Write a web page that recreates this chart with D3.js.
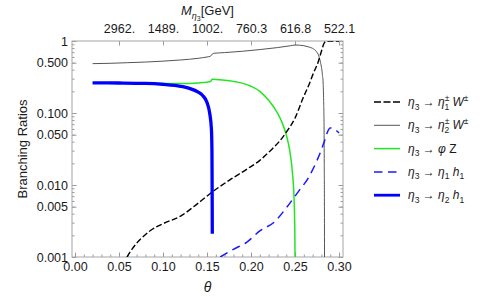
<!DOCTYPE html>
<html>
<head>
<meta charset="utf-8">
<script src="https://cdn.jsdelivr.net/npm/d3@7"></script>
<style>
  body { margin: 0; background: #fff; }
  text { font-family: "Liberation Sans", Arial, sans-serif; fill: #1a1a1a; }
</style>
</head>
<body>
<div id="chart"></div>
<script>

// eta3 -> eta1+- W+-  (black dashed)
var thetaW1 = [0.059, 0.065, 0.075, 0.085, 0.10, 0.12, 0.14, 0.156, 0.176, 0.195, 0.21, 0.222, 0.232, 0.24, 0.25, 0.259, 0.266, 0.271, 0.276, 0.28, 0.283, 0.285, 0.287, 0.30];
var brW1    = [0.001, 0.0013, 0.0018, 0.0023, 0.0029, 0.0037, 0.0056, 0.0080, 0.0118, 0.0165, 0.022, 0.030, 0.040, 0.054, 0.085, 0.16, 0.25, 0.36, 0.50, 0.72, 0.93, 0.99, 1.0, 1.0];

// eta3 -> eta2+- W+-  (thin gray)
var thetaW2 = [0.02, 0.04, 0.06, 0.08, 0.10, 0.12, 0.14, 0.15, 0.154, 0.156, 0.158, 0.17, 0.19, 0.21, 0.23, 0.245, 0.25, 0.255, 0.26, 0.265, 0.27, 0.274, 0.277, 0.279, 0.281, 0.282, 0.2825, 0.283, 0.2832, 0.2834, 0.2835];
var brW2    = [0.485, 0.49, 0.50, 0.51, 0.525, 0.545, 0.575, 0.60, 0.615, 0.66, 0.675, 0.69, 0.72, 0.76, 0.81, 0.86, 0.88, 0.875, 0.86, 0.83, 0.79, 0.72, 0.62, 0.50, 0.35, 0.25, 0.15, 0.06, 0.02, 0.005, 0.001];

// eta3 -> phi Z  (green)
var thetaZ = [0.02, 0.06, 0.10, 0.12, 0.14, 0.15, 0.154, 0.156, 0.16, 0.17, 0.18, 0.19, 0.20, 0.21, 0.22, 0.23, 0.235, 0.24, 0.244, 0.247, 0.249, 0.2498, 0.25];
var brZ    = [0.262, 0.261, 0.258, 0.257, 0.262, 0.268, 0.275, 0.295, 0.292, 0.285, 0.275, 0.26, 0.235, 0.20, 0.15, 0.10, 0.075, 0.05, 0.03, 0.015, 0.006, 0.002, 0.001];

// eta3 -> eta1 h1  (blue dashed)
var thetaH1 = [0.165, 0.18, 0.195, 0.21, 0.227, 0.24, 0.255, 0.265, 0.275, 0.28, 0.284, 0.287, 0.29, 0.293, 0.30];
var brH1    = [0.001, 0.00128, 0.0016, 0.0023, 0.0031, 0.0048, 0.0085, 0.0125, 0.022, 0.031, 0.043, 0.055, 0.062, 0.061, 0.053];

// eta3 -> eta2 h1  (thick blue)
var thetaH2 = [0.02, 0.05, 0.08, 0.10, 0.12, 0.13, 0.14, 0.145, 0.15, 0.153, 0.155, 0.1556, 0.1558, 0.1559, 0.156];
var brH2    = [0.262, 0.261, 0.258, 0.25, 0.235, 0.22, 0.195, 0.175, 0.14, 0.10, 0.06, 0.03, 0.01, 0.005, 0.0021];

var xTicks = [0, 0.05, 0.10, 0.15, 0.20, 0.25, 0.30];
var xTickLabels = ["0.00", "0.05", "0.10", "0.15", "0.20", "0.25", "0.30"];
var yTicks = [1, 0.5, 0.1, 0.05, 0.01, 0.005, 0.001];
var yTickLabels = ["1", "0.500", "0.100", "0.050", "0.010", "0.005", "0.001"];
var topTicks = [0.05, 0.10, 0.15, 0.20, 0.25, 0.30];
var topTickLabels = ["2962.", "1489.", "1002.", "760.3", "616.8", "522.1"];

var W = 482, H = 297;
var pL = 72, pR = 343, pT = 41, pB = 257;

var svg = d3.select("#chart").append("svg")
  .attr("width", W)
  .attr("height", H);

var x = d3.scaleLinear().domain([-0.0034, 0.3045]).range([pL, pR]);
var y = d3.scaleLog().domain([0.001, 1]).range([pB, pT]);

svg.append("clipPath").attr("id", "clip")
  .append("rect")
  .attr("x", pL).attr("y", pT)
  .attr("width", pR - pL).attr("height", pB - pT);

// minor ticks
var minorX = d3.range(0, 0.3001, 0.01);
var minorY = [];
[0.001, 0.01, 0.1].forEach(function(d) {
  for (var k = 2; k < 10; k++) minorY.push(d * k);
});

function noLabels(a) { return a.tickFormat(function() { return ""; }); }

svg.append("g").attr("transform", "translate(0," + pB + ")")
  .call(noLabels(d3.axisBottom(x).tickValues(minorX).tickSize(-2.5)));
svg.append("g").attr("transform", "translate(0," + pB + ")")
  .call(d3.axisBottom(x).tickValues(xTicks).tickSize(-4.5).tickPadding(5)
    .tickFormat(function(d, i) { return xTickLabels[i]; }));

svg.append("g").attr("transform", "translate(" + pL + ",0)")
  .call(noLabels(d3.axisLeft(y).tickValues(minorY).tickSize(-2.5)));
svg.append("g").attr("transform", "translate(" + pL + ",0)")
  .call(d3.axisLeft(y).tickValues(yTicks).tickSize(-4.5).tickPadding(4)
    .tickFormat(function(d, i) { return yTickLabels[i]; }));

svg.append("g").attr("transform", "translate(" + pR + ",0)")
  .call(noLabels(d3.axisRight(y).tickValues(minorY).tickSize(-2.5)));
svg.append("g").attr("transform", "translate(" + pR + ",0)")
  .call(noLabels(d3.axisRight(y).tickValues(yTicks).tickSize(-4.5)));

svg.append("g").attr("transform", "translate(0," + pT + ")")
  .call(d3.axisTop(x).tickValues(topTicks).tickSize(-4.5).tickPadding(8)
    .tickFormat(function(d, i) { return topTickLabels[i]; }));

svg.selectAll(".domain").remove();
svg.selectAll(".tick line").attr("stroke", "#9a9a9a");
svg.selectAll(".tick text").attr("font-size", "12.5px").attr("fill", "#1a1a1a")
  .attr("font-family", "Liberation Sans, Arial, sans-serif");

svg.append("rect")
  .attr("x", pL).attr("y", pT)
  .attr("width", pR - pL).attr("height", pB - pT)
  .attr("fill", "none").attr("stroke", "#a6a6a6").attr("stroke-width", 1);

// curves
var plot = svg.append("g").attr("clip-path", "url(#clip)");

function curve(xs, ys) {
  return d3.line()
    .x(function(d, i) { return x(xs[i]); })
    .y(function(d, i) { return y(ys[i]); })
    .curve(d3.curveMonotoneX)(xs);
}

var series = [
  { xs: thetaW2, ys: brW2, color: "#555555", width: 1, dash: null },
  { xs: thetaZ, ys: brZ, color: "#22e622", width: 1.5, dash: null },
  { xs: thetaH1, ys: brH1, color: "#1a1aff", width: 1.5, dash: "8.5,5.5" },
  { xs: thetaW1, ys: brW1, color: "#000000", width: 1.4, dash: "6,2.5" },
  { xs: thetaH2, ys: brH2, color: "#0000ff", width: 3.3, dash: null }
];

series.forEach(function(s) {
  plot.append("path")
    .attr("d", curve(s.xs, s.ys))
    .attr("fill", "none")
    .attr("stroke", s.color)
    .attr("stroke-width", s.width)
    .attr("stroke-dasharray", s.dash);
});

// rich text helper: parts with sub / sup / italic
function rich(sel, parts, small) {
  var cur = 0;
  parts.forEach(function(p) {
    var t = sel.append("tspan").text(p.t);
    var shift = p.subsub ? 6 : (p.sub ? 3.5 : (p.sup ? -5 : 0));
    t.attr("dy", shift - cur);
    cur = shift;
    if (p.dx) t.attr("dx", p.dx);
    if (p.subsub) t.style("font-size", (small - 2) + "px");
    else if (p.sub || p.sup) t.style("font-size", small + "px");
    if (p.it) t.style("font-style", "italic");
  });
}

// axis titles
svg.append("text")
  .attr("transform", "translate(27," + ((pT + pB) / 2) + ") rotate(-90)")
  .attr("text-anchor", "middle")
  .attr("font-size", "13px")
  .text("Branching Ratios");

svg.append("text")
  .attr("x", (pL + pR) / 2).attr("y", 292)
  .attr("text-anchor", "middle")
  .attr("font-size", "14px")
  .style("font-style", "italic")
  .text("θ");

var topTitle = svg.append("text")
  .attr("x", (pL + pR) / 2).attr("y", 15)
  .attr("text-anchor", "middle")
  .attr("font-size", "13px");
rich(topTitle, [
  { t: "M", it: 1 }, { t: "η", it: 1, sub: 1 }, { t: "3", subsub: 1 }, { t: "[GeV]" }
], 9);

// legend
var legendItems = [
  [{ t: "η", it: 1 }, { t: "3", sub: 1 }, { t: " → " }, { t: "η", it: 1 }, { t: "±", sup: 1 }, { t: "1", sub: 1, dx: -5 }, { t: " " }, { t: "W", it: 1 }, { t: "±", sup: 1 }],
  [{ t: "η", it: 1 }, { t: "3", sub: 1 }, { t: " → " }, { t: "η", it: 1 }, { t: "±", sup: 1 }, { t: "2", sub: 1, dx: -5 }, { t: " " }, { t: "W", it: 1 }, { t: "±", sup: 1 }],
  [{ t: "η", it: 1 }, { t: "3", sub: 1 }, { t: " → " }, { t: "φ", it: 1 }, { t: " Z" }],
  [{ t: "η", it: 1 }, { t: "3", sub: 1 }, { t: " → " }, { t: "η", it: 1 }, { t: "1", sub: 1 }, { t: " " }, { t: "h", it: 1 }, { t: "1", sub: 1 }],
  [{ t: "η", it: 1 }, { t: "3", sub: 1 }, { t: " → " }, { t: "η", it: 1 }, { t: "2", sub: 1 }, { t: " " }, { t: "h", it: 1 }, { t: "1", sub: 1 }]
];
var legendStyle = [series[3], series[0], series[1], series[2], series[4]];
var legendWidth = [1.5, 1, 1.5, 1.5, 2.8];

var legend = svg.append("g");
legendItems.forEach(function(parts, i) {
  var ly = 102 + i * 23.3;
  var s = legendStyle[i];
  legend.append("line")
    .attr("x1", 374).attr("x2", 400)
    .attr("y1", ly).attr("y2", ly)
    .attr("stroke", s.color)
    .attr("stroke-width", legendWidth[i])
    .attr("stroke-dasharray", i === 0 ? "7,2.5" : s.dash);
  var t = legend.append("text")
    .attr("x", 408).attr("y", ly + 4)
    .attr("font-size", "12px");
  rich(t, parts, 8.5);
});

</script>
</body>
</html>
